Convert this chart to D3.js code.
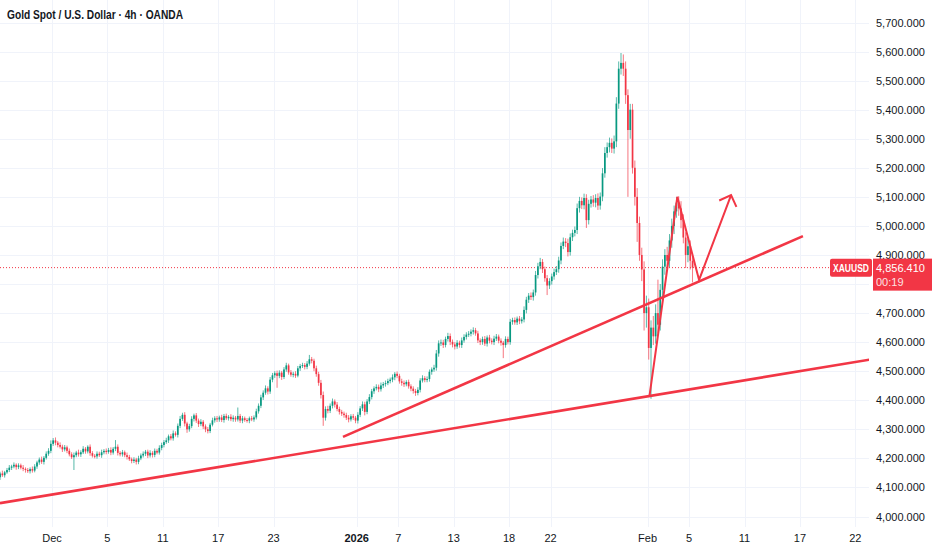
<!DOCTYPE html>
<html><head><meta charset="utf-8">
<script src="https://cdn.jsdelivr.net/npm/d3@7"></script>
<style>
html,body{margin:0;padding:0;background:#fff;}
svg{display:block;}
</style></head><body>
<svg id="c" width="932" height="550"></svg>
<script>
const title = "Gold Spot / U.S. Dollar · 4h · OANDA";
const symbol = "XAUUSD";
const lastPrice = 4856.41;
const countdown = "00:19";

const tradingDays = [
 "2025-11-25","2025-11-26","2025-11-27","2025-11-28",
 "2025-12-01","2025-12-02","2025-12-03","2025-12-04","2025-12-05",
 "2025-12-08","2025-12-09","2025-12-10","2025-12-11","2025-12-12",
 "2025-12-15","2025-12-16","2025-12-17","2025-12-18","2025-12-19",
 "2025-12-22","2025-12-23","2025-12-24","2025-12-26",
 "2025-12-29","2025-12-30","2025-12-31","2026-01-02",
 "2026-01-05","2026-01-06","2026-01-07","2026-01-08","2026-01-09",
 "2026-01-12","2026-01-13","2026-01-14","2026-01-15","2026-01-16",
 "2026-01-19","2026-01-20","2026-01-21","2026-01-22","2026-01-23",
 "2026-01-26","2026-01-27","2026-01-28","2026-01-29","2026-01-30",
 "2026-02-02","2026-02-03","2026-02-04","2026-02-05","2026-02-06",
 "2026-02-09","2026-02-10","2026-02-11","2026-02-12","2026-02-13",
 "2026-02-16","2026-02-17","2026-02-18","2026-02-19","2026-02-20",
 "2026-02-23","2026-02-24","2026-02-25"
];
const barsPerDay = 6;
const firstOpen = 4140;
// 4h closes, six per trading day
const closes = [
 4135,4148,4142,4152,4160,4168,
 4172,4178,4170,4176,4168,4164,
 4160,4156,4163,4158,4172,4186,
 4196,4188,4202,4216,4226,4250,
 4262,4254,4246,4240,4231,4238,
 4226,4214,4204,4211,4220,4214,
 4221,4233,4224,4240,4218,4209,
 4207,4216,4211,4221,4226,4222,
 4229,4220,4233,4240,4219,4214,
 4221,4211,4205,4197,4191,4196,
 4188,4200,4210,4216,4223,4210,
 4219,4212,4226,4220,4236,4246,
 4256,4262,4276,4269,4286,4281,
 4312,4336,4350,4320,4300,4311,
 4336,4348,4330,4318,4326,4310,
 4300,4294,4316,4331,4338,4334,
 4341,4332,4346,4338,4343,4335,
 4340,4334,4346,4330,4338,4332,
 4330,4338,4334,4341,4362,4381,
 4410,4426,4441,4430,4471,4486,
 4493,4484,4495,4480,4506,4520,
 4496,4488,4491,4485,4510,4518,
 4521,4515,4526,4541,4536,4510,
 4490,4460,4418,4340,4370,4364,
 4381,4396,4385,4370,4360,4354,
 4349,4340,4334,4345,4340,4330,
 4350,4372,4386,4360,4396,4411,
 4431,4441,4446,4438,4451,4456,
 4459,4466,4471,4479,4491,4484,
 4465,4460,4455,4463,4448,4440,
 4432,4425,4436,4468,4476,4470,
 4473,4498,4506,4512,4561,4596,
 4599,4590,4611,4621,4601,4592,
 4585,4598,4590,4606,4618,4626,
 4629,4636,4641,4630,4606,4600,
 4611,4595,4616,4605,4600,4612,
 4619,4605,4598,4590,4611,4600,
 4670,4676,4668,4681,4672,4678,
 4711,4746,4760,4755,4771,4831,
 4861,4876,4851,4820,4795,4810,
 4826,4841,4851,4881,4931,4946,
 4941,4910,4961,4976,4986,5061,
 5086,5071,5096,5020,5076,5091,
 5080,5096,5070,5101,5181,5251,
 5271,5286,5266,5291,5421,5541,
 5561,5541,5450,5330,5400,5200,
 5100,5010,4900,4850,4700,4720,
 4580,4650,4620,4700,4660,4780,
 4860,4900,4880,4950,5000,5050,
 5080,5060,5020,4960,4900,4930,
 4880,4856.41
];
const upperWicks = [
 8,6,10,5,7,9, 6,8,5,7,6,9, 5,7,6,9,8,6, 7,10,6,8,9,12, 8,10,6,9,7,8,
 6,8,7,9,6,10, 7,9,6,5,8,7, 6,8,7,9,6,8, 7,9,6,23,8,6, 8,6,9,7,6,8,
 6,9,7,8,6,7, 9,6,8,7,9,8, 7,9,6,8,10,7, 8,10,7,9,6,8, 9,6,8,7,9,6,
 7,8,6,9,7,8, 6,9,7,8,6,9, 8,6,29,7,8,6, 7,6,8,7,9,8, 9,8,10,7,9,8,
 7,9,8,6,8,9, 6,8,7,9,8,7, 8,7,9,15,8,7, 9,8,10,12,9,11, 8,10,7,9,8,7,
 7,8,9,7,8,6, 9,8,10,9,8,10, 8,7,9,8,10,7, 9,8,7,10,6,8, 7,9,8,6,8,7,
 8,7,9,8,10,7, 9,8,7,10,12,10, 10,9,8,11,9,8, 8,9,7,10,9,8, 9,8,10,8,9,7,
 8,10,7,9,8,10, 9,7,8,6,9,8, 10,8,9,7,9,8, 12,10,9,11,10,14, 12,14,10,9,11,10,
 10,12,11,13,12,14, 12,15,13,11,12,16, 14,12,15,13,14,12, 15,13,16,14,18,20,
 16,18,15,20,22,25, 34,29,25,20,20,20, 25,30,22,25,28,40, 30,25,40,30,115,20,
 25,20,28,22,25,20, 20,22,25,20,18,25, 20,15
];
const lowerWicks = [
 7,9,6,8,5,7, 8,6,9,7,6,8, 9,6,8,7,6,8, 8,7,9,6,7,8, 7,9,8,6,9,7,
 8,7,6,44,7,8, 9,6,8,7,9,6, 7,8,6,9,7,8, 6,9,7,8,9,7, 8,7,9,6,8,7,
 9,8,6,7,8,9, 7,9,8,6,7,8, 8,6,9,7,8,6, 9,8,7,10,12,8, 7,9,8,10,7,9,
 10,8,7,6,8,9, 8,7,9,6,8,7, 9,8,7,8,9,6, 7,9,6,8,7,8, 8,9,7,10,8,9,
 9,41,8,10,7,8, 8,7,9,8,6,9, 7,9,8,7,9,10, 9,10,12,28,10,9, 8,9,10,8,9,8,
 9,8,10,7,8,9, 10,8,9,12,8,9, 8,9,7,10,8,9, 9,7,8,9,10,8, 8,10,9,7,8,9,
 9,10,8,9,7,8, 8,9,10,8,10,11, 9,10,8,9,11,10, 10,8,9,10,8,9, 8,9,10,8,9,10,
 9,8,10,9,8,10, 8,9,10,45,9,8, 9,10,8,9,10,8, 10,12,11,10,12,11, 12,10,13,12,33,12,
 12,11,10,12,13,11, 14,15,12,13,12,14, 15,13,14,27,15,13, 14,16,15,14,16,15,
 16,18,15,17,20,18, 20,25,30,230,30,20, 30,65,20,40,60,50, 40,175,30,25,30,20,
 25,28,30,22,25,28, 22,25,28,20,45,25, 30,51
];

const priceTicks = [4000,4100,4200,4300,4400,4500,4600,4700,4800,4900,5000,5100,5200,5300,5400,5500,5600,5700];
const tickDates = ["2025-12-01","2025-12-05","2025-12-11","2025-12-17","2025-12-23","2026-01-02","2026-01-07","2026-01-13","2026-01-19","2026-01-22","2026-02-02","2026-02-05","2026-02-11","2026-02-17","2026-02-23"];
const tickLabels = ["Dec","5","11","17","23","2026","7","13","18","22","Feb","5","11","17","22"];
const boldTicks = ["2026"];

// drawings: [trading day, fraction of day, price]
const lowerTrend = [["2025-11-25",0.245,4046],["2026-02-24",0.06,4540]];
const upperTrend = [["2025-12-31",0.01,4274],["2026-02-17",0.22,4965]];
const zigzag = [["2026-02-02",0.13,4412],["2026-02-04",0.15,5100],["2026-02-05",0.72,4814],["2026-02-10",0.03,5106]];

const UP = "#089981", DOWN = "#f23645", DRAW = "#f23645", TEXT = "#131722", GRID = "#f0f3fa";
const W = 932, H = 550, plotRight = 869, plotBottom = 527;
const FONT = "'Liberation Sans', Arial, sans-serif";

const svg = d3.select("#c");
const x = d3.scaleLinear().domain([0, 64]).range([-3.4, -3.4 + 64 * 13.85]);
const y = d3.scaleLinear().domain([4000, 5700]).range([516.5, 22.5]);
const dayPos = (date, frac) => tradingDays.indexOf(date) + frac;

// bars
const bars = closes.map((c, i) => {
  const o = i === 0 ? firstOpen : closes[i - 1];
  const hi = Math.max(o, c) + upperWicks[i];
  const lo = Math.min(o, c) - lowerWicks[i];
  const pos = Math.floor(i / barsPerDay) + ((i % barsPerDay) + 0.5) / barsPerDay;
  return { o, c, hi, lo, pos };
});

svg.append("rect").attr("width", W).attr("height", H).attr("fill", "#fff");
svg.append("defs").append("clipPath").attr("id", "plot")
  .append("rect").attr("x", 0).attr("y", 0).attr("width", plotRight).attr("height", plotBottom);

// grid
const grid = svg.append("g").attr("clip-path", "url(#plot)");
grid.selectAll("line.h").data(priceTicks).join("line")
  .attr("x1", 0).attr("x2", plotRight)
  .attr("y1", d => Math.round(y(d)) + 0.5).attr("y2", d => Math.round(y(d)) + 0.5)
  .attr("stroke", GRID).attr("stroke-width", 1);
grid.selectAll("line.v").data(tickDates).join("line")
  .attr("y1", 0).attr("y2", plotBottom)
  .attr("x1", d => Math.round(x(dayPos(d, 0))) + 0.5).attr("x2", d => Math.round(x(dayPos(d, 0))) + 0.5)
  .attr("stroke", GRID).attr("stroke-width", 1);

// last price dotted line
svg.append("line").attr("x1", 0).attr("x2", 830)
  .attr("y1", y(lastPrice)).attr("y2", y(lastPrice))
  .attr("stroke", DOWN).attr("stroke-width", 1).attr("stroke-dasharray", "1,2");

// candles
const cg = svg.append("g").attr("clip-path", "url(#plot)");
const bw = 1.7;
cg.selectAll("line.wick").data(bars).join("line")
  .attr("x1", d => x(d.pos)).attr("x2", d => x(d.pos))
  .attr("y1", d => y(d.hi)).attr("y2", d => y(d.lo))
  .attr("stroke", d => d.c >= d.o ? UP : DOWN).attr("stroke-width", 0.8).attr("opacity", 0.85);
cg.selectAll("rect.body").data(bars).join("rect")
  .attr("x", d => x(d.pos) - bw / 2).attr("width", bw)
  .attr("y", d => y(Math.max(d.o, d.c)))
  .attr("height", d => Math.max(1, Math.abs(y(d.o) - y(d.c))))
  .attr("fill", d => d.c >= d.o ? UP : DOWN);

// drawings
const dg = svg.append("g").attr("clip-path", "url(#plot)");
const pt = p => [x(dayPos(p[0], p[1])), y(p[2])];
const line = d3.line();
dg.append("path").attr("d", line(lowerTrend.map(pt))).attr("fill", "none").attr("stroke", DRAW).attr("stroke-width", 2.6);
dg.append("path").attr("d", line(upperTrend.map(pt))).attr("fill", "none").attr("stroke", DRAW).attr("stroke-width", 2.6);
const zz = zigzag.map(pt);
dg.append("path").attr("d", line(zz)).attr("fill", "none").attr("stroke", DRAW).attr("stroke-width", 2).attr("stroke-linejoin", "miter");
// arrow head on last segment
const [ax, ay] = zz[zz.length - 1], [bx, by] = zz[zz.length - 2];
const ang = Math.atan2(by - ay, bx - ax), L = 13;
const wing = a => [ax + L * Math.cos(ang + a), ay + L * Math.sin(ang + a)];
dg.append("path").attr("d", line([wing(Math.PI / 4), [ax, ay], wing(-Math.PI / 4)]))
  .attr("fill", "none").attr("stroke", DRAW).attr("stroke-width", 2);

// right price axis labels
svg.append("g").selectAll("text").data(priceTicks.filter(p => p !== 4800)).join("text")
  .attr("x", 876).attr("y", d => y(d) + 4)
  .attr("font-family", FONT).attr("font-size", 11).attr("fill", TEXT)
  .text(d => d3.format(",.3f")(d));

// time axis labels
svg.append("g").selectAll("text").data(tickDates).join("text")
  .attr("x", d => x(dayPos(d, 0))).attr("y", 542)
  .attr("text-anchor", "middle")
  .attr("font-family", FONT).attr("font-size", 11).attr("fill", TEXT)
  .attr("font-weight", (d, i) => boldTicks.includes(tickLabels[i]) ? "bold" : "normal")
  .text((d, i) => tickLabels[i]);

// symbol + price labels
const ly = y(lastPrice);
svg.append("rect").attr("x", 830).attr("y", ly - 9).attr("width", 42).attr("height", 18).attr("rx", 2).attr("fill", DOWN);
svg.append("text").attr("x", 833).attr("y", ly + 4)
  .attr("font-family", FONT).attr("font-size", 10.5).attr("font-weight", "bold").attr("fill", "#fff")
  .attr("textLength", 36).attr("lengthAdjust", "spacingAndGlyphs").text(symbol);
svg.append("rect").attr("x", 873).attr("y", ly - 9).attr("width", 59).attr("height", 32).attr("fill", DOWN);
svg.append("text").attr("x", 876).attr("y", ly + 4)
  .attr("font-family", FONT).attr("font-size", 11).attr("fill", "#fff").text(d3.format(",.3f")(lastPrice));
svg.append("text").attr("x", 876).attr("y", ly + 18)
  .attr("font-family", FONT).attr("font-size", 11).attr("fill", "#fff").attr("opacity", 0.85).text(countdown);

// title
svg.append("text").attr("x", 7).attr("y", 19)
  .attr("font-family", FONT).attr("font-size", 12).attr("font-weight", "bold").attr("fill", TEXT)
  .attr("textLength", 176).attr("lengthAdjust", "spacingAndGlyphs")
  .text(title);
</script>
</body></html>
